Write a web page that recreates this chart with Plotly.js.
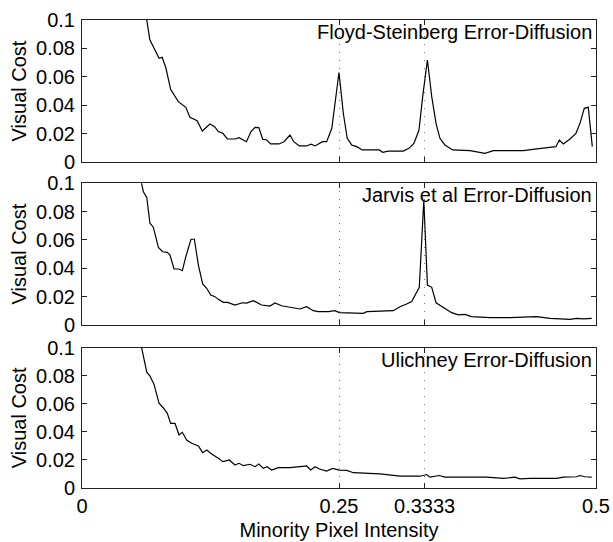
<!DOCTYPE html>
<html>
<head>
<meta charset="utf-8">
<script src="https://cdn.plot.ly/plotly-3.0.1.min.js"></script>
<style>html,body{margin:0;padding:0;background:#fff;}#chart{width:613px;height:542px;}</style>
</head>
<body>
<div id="chart"></div>
<script>
// Floyd-Steinberg Error-Diffusion
const fsX = [0.055,0.063,0.066,0.075,0.078,0.0817,0.0862,0.0937,0.101,0.105,0.112,0.117,0.1245,0.129,0.1326,0.137,0.1414,0.149,0.1527,0.160,0.1644,0.1683,0.172,0.1758,0.1796,0.1835,0.1916,0.1965,0.2023,0.206,0.2114,0.2185,0.2228,0.2267,0.234,0.238,0.243,0.25,0.2542,0.258,0.2623,0.2672,0.2727,0.2892,0.2925,0.298,0.3126,0.318,0.323,0.3278,0.3314,0.336,0.3402,0.3444,0.3482,0.353,0.3606,0.3774,0.392,0.400,0.4178,0.4293,0.4423,0.457,0.461,0.4643,0.4682,0.4747,0.4805,0.4844,0.4886,0.4925,0.4964];
const fsY = [0.125,0.100,0.086,0.073,0.0737,0.066,0.0512,0.0425,0.0385,0.0315,0.029,0.0218,0.0268,0.0249,0.0214,0.0202,0.0162,0.0162,0.0171,0.0143,0.0214,0.0244,0.0242,0.016,0.0155,0.0127,0.0127,0.0143,0.019,0.0143,0.0113,0.0113,0.0125,0.0113,0.0143,0.0143,0.0237,0.063,0.0343,0.0167,0.012,0.0108,0.0085,0.0085,0.0068,0.0077,0.0077,0.0096,0.0132,0.0225,0.046,0.0718,0.046,0.0272,0.0167,0.012,0.0085,0.008,0.0061,0.008,0.008,0.008,0.0092,0.0101,0.0108,0.0155,0.0127,0.0162,0.0202,0.0272,0.0378,0.0385,0.0108];

// Jarvis et al Error-Diffusion
const jvX = [0.052,0.058,0.0597,0.063,0.0661,0.0694,0.0743,0.0785,0.083,0.0856,0.0895,0.0944,0.0976,0.101,0.106,0.1093,0.1132,0.1174,0.1213,0.1252,0.1294,0.1326,0.1375,0.1417,0.1488,0.156,0.160,0.1667,0.1748,0.1829,0.1877,0.1942,0.2023,0.212,0.2185,0.225,0.2299,0.2396,0.246,0.2503,0.2737,0.277,0.3028,0.3093,0.3158,0.3207,0.3281,0.3325,0.336,0.3402,0.3444,0.3515,0.3596,0.366,0.3726,0.379,0.3969,0.4163,0.4358,0.4423,0.4553,0.4747,0.4812,0.4877,0.4958];
const jvY = [0.12,0.0995,0.094,0.090,0.0718,0.069,0.0548,0.0517,0.0513,0.0494,0.0395,0.0395,0.0383,0.0482,0.0605,0.0605,0.0423,0.029,0.0259,0.0212,0.020,0.0181,0.016,0.016,0.0141,0.0157,0.0155,0.0172,0.0141,0.0134,0.0155,0.0136,0.0125,0.0113,0.0129,0.0101,0.0094,0.0094,0.0101,0.0087,0.0082,0.0094,0.0101,0.0129,0.0148,0.0165,0.0266,0.088,0.0282,0.0266,0.0157,0.0125,0.0087,0.0071,0.0075,0.0059,0.0052,0.0052,0.0059,0.0059,0.0047,0.004,0.0047,0.0043,0.0047];

// Ulichney Error-Diffusion
const ulX = [0.052,0.058,0.063,0.066,0.070,0.0749,0.079,0.083,0.0862,0.0905,0.0944,0.0976,0.1018,0.1067,0.1132,0.1174,0.1213,0.1261,0.1326,0.137,0.1433,0.1488,0.1527,0.157,0.1634,0.1683,0.172,0.1764,0.180,0.1845,0.191,0.2023,0.212,0.2185,0.2224,0.2267,0.2309,0.238,0.2439,0.2503,0.2575,0.264,0.2899,0.3093,0.3288,0.3353,0.3385,0.3476,0.353,0.3709,0.3757,0.3936,0.4099,0.4212,0.4261,0.4358,0.4617,0.4682,0.4812,0.4844,0.4893,0.4958];
const ulY = [0.13,0.1,0.0825,0.080,0.074,0.0604,0.0572,0.0532,0.046,0.046,0.0378,0.0397,0.0342,0.0319,0.030,0.0252,0.0271,0.0242,0.0212,0.0188,0.020,0.0164,0.0176,0.0159,0.0169,0.0152,0.0171,0.014,0.0152,0.0128,0.0145,0.0145,0.0152,0.0157,0.0128,0.0152,0.0135,0.0121,0.014,0.0128,0.0125,0.0109,0.0101,0.0084,0.0084,0.0096,0.0077,0.0089,0.0077,0.0077,0.008,0.0077,0.0068,0.0077,0.0065,0.0068,0.0068,0.0077,0.008,0.0089,0.008,0.0077];

const panelTitles = ["Floyd-Steinberg Error-Diffusion", "Jarvis et al Error-Diffusion", "Ulichney Error-Diffusion"];
const xTickVals = [0, 0.25, 0.3333, 0.5];
const xTickText = ["0", "0.25", "0.3333", "0.5"];
const yTickVals = [0, 0.02, 0.04, 0.06, 0.08, 0.1];
const yTickText = ["0", "0.02", "0.04", "0.06", "0.08", "0.1"];
const yLabel = "Visual Cost";
const xLabel = "Minority Pixel Intensity";

const FONT = '"Liberation Sans", Arial, Helvetica, sans-serif';
const FS = 20;
const lineStyle = {color: '#000', width: 1.2};

const traces = [
  {x: fsX, y: fsY, xaxis: 'x', yaxis: 'y', mode: 'lines', line: lineStyle, hoverinfo: 'skip'},
  {x: jvX, y: jvY, xaxis: 'x2', yaxis: 'y2', mode: 'lines', line: lineStyle, hoverinfo: 'skip'},
  {x: ulX, y: ulY, xaxis: 'x3', yaxis: 'y3', mode: 'lines', line: lineStyle, hoverinfo: 'skip'}
];

function xAxis(anchor, labels) {
  return {
    anchor: anchor, domain: [0, 1], range: [0, 0.5],
    tickmode: 'array', tickvals: xTickVals, ticktext: xTickText,
    showticklabels: labels,
    ticks: 'inside', ticklen: 5, tickcolor: '#222',
    showline: true, linecolor: '#222', linewidth: 1, mirror: 'ticks',
    showgrid: true, gridcolor: '#777', gridwidth: 1, griddash: '1px,7px',
    zeroline: false,
    tickfont: {family: FONT, size: FS, color: '#000'},
    title: labels ? {text: xLabel, font: {family: FONT, size: FS, color: '#000'}, standoff: 6} : {text: ''}
  };
}
function yAxis(anchor, domain) {
  return {
    anchor: anchor, domain: domain, range: [0, 0.1],
    tickmode: 'array', tickvals: yTickVals, ticktext: yTickText,
    ticks: 'inside', ticklen: 5, tickcolor: '#222',
    showline: true, linecolor: '#222', linewidth: 1, mirror: 'ticks',
    showgrid: false, zeroline: false,
    tickfont: {family: FONT, size: FS, color: '#000'},
    ticklabelstandoff: 2,
    title: {text: yLabel, font: {family: FONT, size: FS, color: '#000'}, standoff: 4}
  };
}

const annotations = panelTitles.map((t, i) => {
  const sfx = i === 0 ? '' : String(i + 1);
  return {
    text: t, xref: 'x' + sfx + ' domain', yref: 'y' + sfx + ' domain',
    x: 1, y: 1, xanchor: 'right', yanchor: 'top', xshift: -2, yshift: 1,
    showarrow: false, font: {family: FONT, size: FS, color: '#000'}
  };
});

const layout = {
  width: 613, height: 542,
  margin: {l: 82, r: 17, t: 20, b: 54},
  paper_bgcolor: '#fff', plot_bgcolor: '#fff',
  showlegend: false,
  font: {family: FONT, size: FS, color: '#000'},
  xaxis: xAxis('y', false),
  xaxis2: xAxis('y2', false),
  xaxis3: xAxis('y3', true),
  yaxis: yAxis('x', [0.6966, 1]),
  yaxis2: yAxis('x2', [0.3483, 0.6511]),
  yaxis3: yAxis('x3', [0, 0.2998]),
  annotations: annotations
};

Plotly.newPlot('chart', traces, layout, {displayModeBar: false, staticPlot: true});
</script>
</body>
</html>
